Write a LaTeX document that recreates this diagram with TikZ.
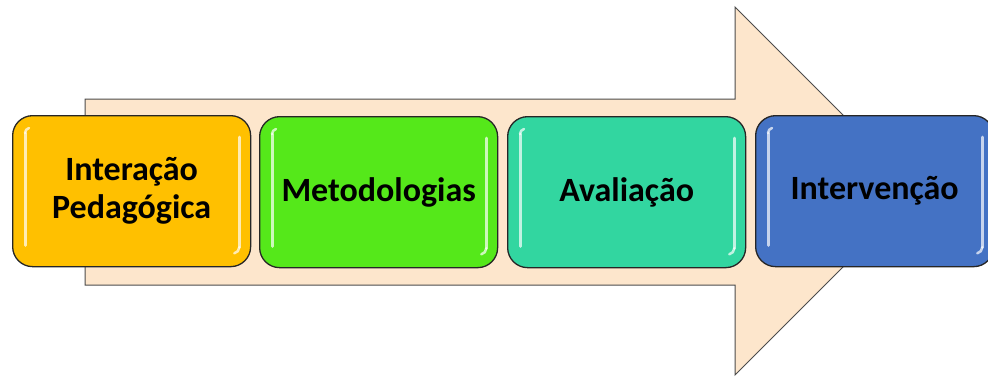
\documentclass[tikz,border=0pt]{standalone}
\usepackage{fontspec}
\setmainfont{Carlito}
\begin{document}
\begin{tikzpicture}[x=1pt,y=-1pt,
  stage/.style={draw=black!85, line width=1.3pt, rounded corners=20pt,
    minimum width=238pt, minimum height=151pt, inner sep=0pt,
    font=\bfseries\fontsize{34}{38}\selectfont, align=center, text=black},
  gloss/.style={white, line width=3pt, line cap=round, opacity=0.7},
]
\useasboundingbox (0,0) rectangle (988,376);
\begin{scope}
\clip (0,0) rectangle (988,376);
% the big block arrow behind the stages
\draw[fill={rgb,255:red,253;green,230;blue,204}, draw=black!70, line width=1pt]
  (85,99) -- (735,99) -- (735,7) -- (919,191) -- (735,375) -- (735,285) -- (85,285) -- cycle;

% stages
\node[stage, fill={rgb,255:red,255;green,192;blue,0}, anchor=north west]
  (s1) at (12,115) {Interação\\Pedagógica};
\node[stage, fill={rgb,255:red,85;green,232;blue,26}, anchor=north west]
  (s2) at (259,116) {Metodologias};
\node[stage, fill={rgb,255:red,50;green,214;blue,160}, anchor=north west]
  (s3) at (507,116) {Avaliação};
\node[stage, fill={rgb,255:red,68;green,114;blue,196}, anchor=north west]
  (s4) at (755,115) {Intervenção};

% glossy highlights inside each stage
\foreach \s in {s1,s2,s3,s4}{
  \draw[gloss] ([xshift=13pt,yshift=-18pt]\s.north west) -- ([xshift=13pt,yshift=22pt]\s.south west);
  \draw[gloss] ([xshift=-12pt,yshift=-22pt]\s.north east) -- ([xshift=-12pt,yshift=20pt]\s.south east);
  \draw[gloss, line width=2.5pt] ([xshift=-12pt,yshift=20pt]\s.south east) to[bend left=35] ([xshift=-17pt,yshift=14pt]\s.south east);
  \draw[gloss, line width=2.5pt] ([xshift=13pt,yshift=-18pt]\s.north west) to[bend left=35] ([xshift=17pt,yshift=-13pt]\s.north west);
}
\end{scope}
\end{tikzpicture}
\end{document}
